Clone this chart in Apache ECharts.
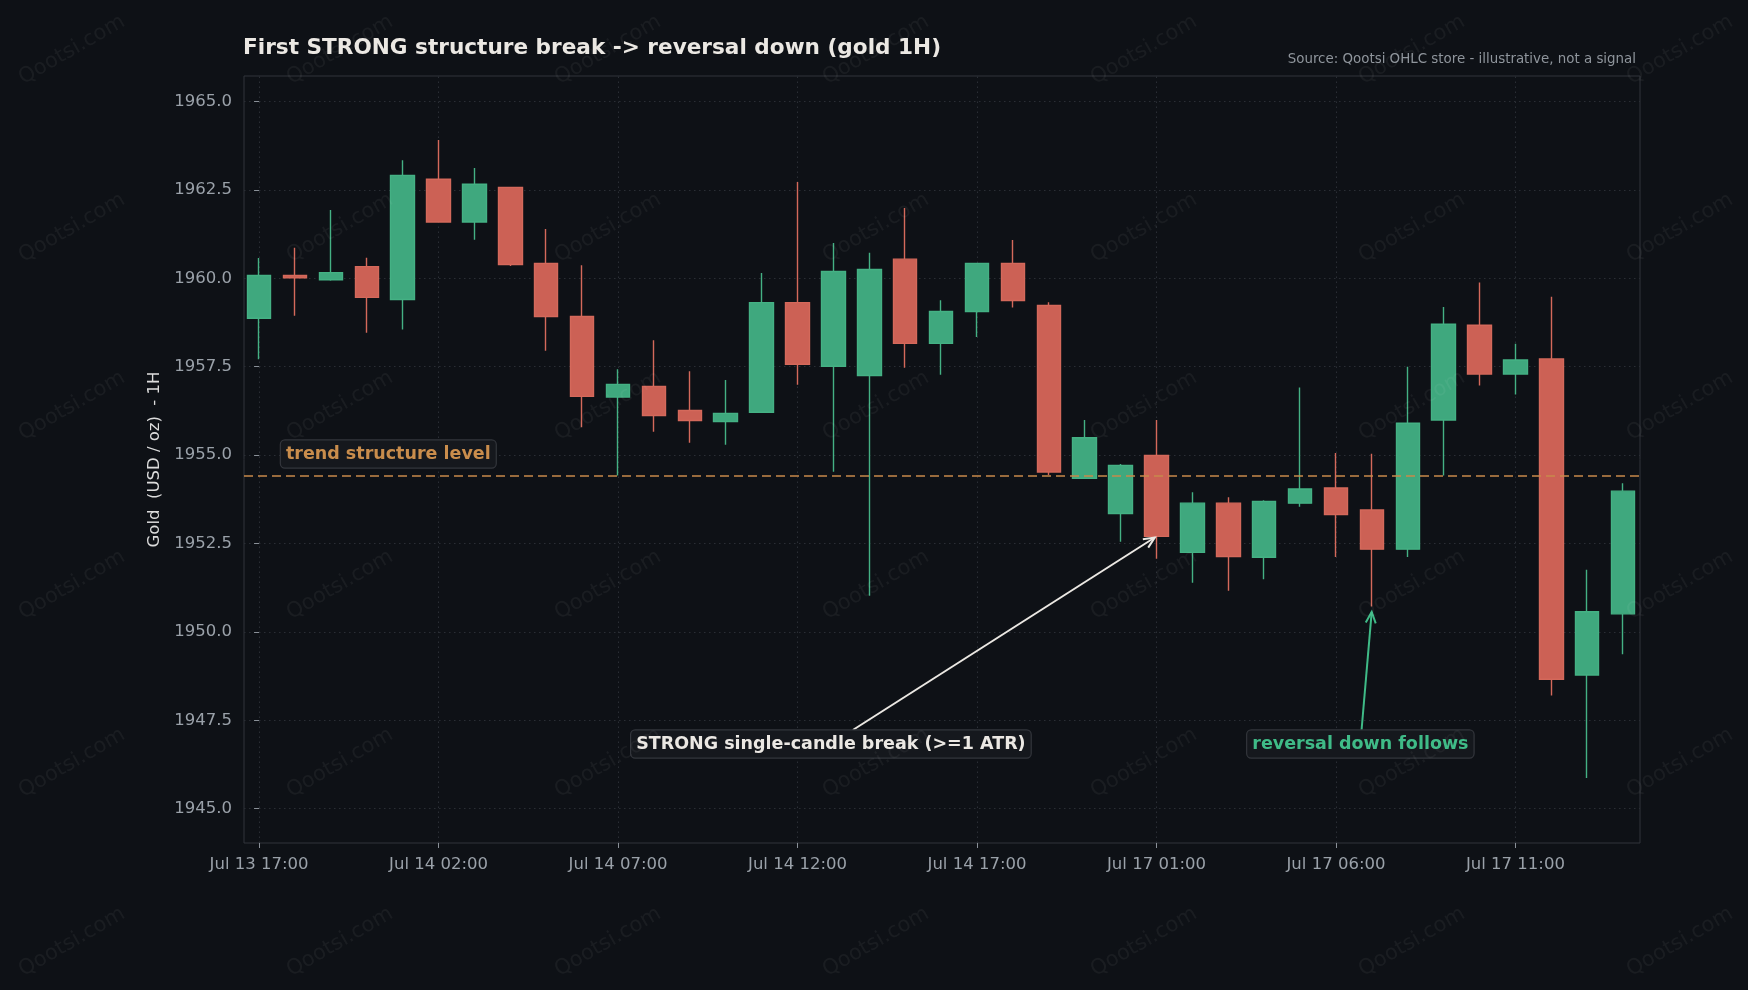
<!DOCTYPE html>
<html>
<head>
<meta charset="utf-8">
<script src="https://cdn.jsdelivr.net/npm/echarts@6/dist/echarts.min.js"></script>
<style>
html,body{margin:0;padding:0;background:#0e1116;}
#chart{width:1748px;height:990px;}
</style>
</head>
<body>
<div id="chart"></div>
<script>
// ---------------- DATA ----------------
const categories = [
  'Jul 13 17:00','Jul 13 18:00','Jul 13 19:00','Jul 13 20:00','Jul 13 21:00',
  'Jul 14 02:00','Jul 14 03:00','Jul 14 04:00','Jul 14 05:00','Jul 14 06:00',
  'Jul 14 07:00','Jul 14 08:00','Jul 14 09:00','Jul 14 10:00','Jul 14 11:00',
  'Jul 14 12:00','Jul 14 13:00','Jul 14 14:00','Jul 14 15:00','Jul 14 16:00',
  'Jul 14 17:00','Jul 14 18:00','Jul 14 19:00','Jul 14 20:00','Jul 14 21:00',
  'Jul 17 01:00','Jul 17 02:00','Jul 17 03:00','Jul 17 04:00','Jul 17 05:00',
  'Jul 17 06:00','Jul 17 07:00','Jul 17 08:00','Jul 17 09:00','Jul 17 10:00',
  'Jul 17 11:00','Jul 17 12:00','Jul 17 13:00','Jul 17 14:00'
];
const opens  = [1958.87,1960.08,1959.96,1960.33,1959.40,1962.80,1961.59,1962.57,1960.42,1958.92,
                1956.64,1956.94,1956.26,1955.95,1956.21,1959.31,1957.51,1957.25,1960.54,1958.16,
                1959.06,1960.42,1959.23,1954.34,1953.35,1954.99,1952.25,1953.64,1952.11,1953.64,
                1954.07,1953.45,1952.34,1955.99,1958.67,1957.29,1957.72,1948.78,1950.51];
const closes = [1960.08,1960.01,1960.16,1959.46,1962.91,1961.59,1962.66,1960.39,1958.92,1956.66,
                1957.00,1956.12,1955.98,1956.18,1959.31,1957.57,1960.19,1960.25,1958.16,1959.06,
                1960.42,1959.37,1954.52,1955.49,1954.71,1952.70,1953.64,1952.13,1953.69,1954.04,
                1953.32,1952.34,1955.90,1958.70,1957.29,1957.69,1948.66,1950.57,1953.98];
const lows   = [1957.71,1958.94,1959.93,1958.46,1958.55,1961.59,1961.09,1960.35,1957.95,1955.79,
                1954.42,1955.66,1955.35,1955.29,1956.21,1956.99,1954.53,1951.02,1957.47,1957.27,
                1958.34,1959.17,1954.44,1954.34,1952.55,1952.07,1951.39,1951.16,1951.49,1953.54,
                1952.12,1950.72,1952.12,1954.42,1956.97,1956.71,1948.20,1945.87,1949.37];
const highs  = [1960.57,1960.86,1961.93,1960.58,1963.34,1963.91,1963.12,1962.57,1961.39,1960.37,
                1957.43,1958.25,1957.37,1957.12,1960.15,1962.72,1961.00,1960.72,1961.99,1959.38,
                1960.42,1961.08,1959.32,1955.99,1954.75,1955.99,1953.95,1953.81,1953.72,1956.91,
                1955.06,1955.04,1957.50,1959.19,1959.88,1958.15,1959.48,1951.76,1954.20];

const yTicks = [1945.0,1947.5,1950.0,1952.5,1955.0,1957.5,1960.0,1962.5,1965.0];
const xTickIdx = [0,5,10,15,20,25,30,35];
const yRange = [1944.03, 1965.72];
const xRange = [-0.42, 38.47];

const structureLevel = 1954.42;
const levelLabel = {text: 'trend structure level', at: [3.6, 1955.03]};
const breakNote = {text: 'STRONG single-candle break (>=1 ATR)', at: [15.93, 1946.83], target: [25, 1952.70]};
const reversalNote = {text: 'reversal down follows', at: [30.68, 1946.83], target: [31, 1950.62]};

const titleText = 'First STRONG structure break -> reversal down (gold 1H)';
const sourceText = 'Source: Qootsi OHLC store - illustrative, not a signal';
const yAxisName = 'Gold  (USD / oz)  - 1H';
const watermark = 'Qootsi.com';

// ---------------- STYLE ----------------
const UP = '#3fa87e', UP_B = '#44b184';
const DOWN = '#cc6155', DOWN_B = '#d4695b';
const GRIDC = '#2a2e35';
const FONT = '"DejaVu Sans", sans-serif';

const ohlc = categories.map((c, i) => [i, opens[i], closes[i], lows[i], highs[i]]);

const chart = echarts.init(document.getElementById('chart'), null, {renderer: 'canvas'});

const option = {
  animation: false,
  backgroundColor: '#0e1116',
  title: {
    text: titleText, left: 243, top: 37, padding: 0,
    textStyle: {color: '#ebe8e3', fontSize: 21.6, fontWeight: 'bold', fontFamily: FONT}
  },
  grid: {
    left: 244, top: 76, width: 1396, height: 767,
    show: true, borderColor: '#30343a', borderWidth: 1, backgroundColor: 'transparent'
  },
  xAxis: {
    type: 'value', min: xRange[0], max: xRange[1],
    axisLine: {show: false},
    axisTick: {show: true, customValues: xTickIdx, length: 5, lineStyle: {color: '#8a9098'}},
    axisLabel: {customValues: xTickIdx, color: '#9aa1a9', fontSize: 16.5, margin: 13, fontFamily: FONT,
                formatter: v => categories[Math.round(v)] || ''},
    splitLine: {show: false}
  },
  yAxis: {
    type: 'value', min: yRange[0], max: yRange[1],
    name: yAxisName, nameLocation: 'middle', nameGap: 77, nameRotate: 90,
    nameTextStyle: {color: '#dcdcdc', fontSize: 16.5, fontFamily: FONT},
    axisLine: {show: false},
    axisTick: {show: true, customValues: yTicks, length: 5, lineStyle: {color: '#8a9098'}},
    axisLabel: {customValues: yTicks, color: '#9aa1a9', fontSize: 16.5, margin: 12, fontFamily: FONT,
                formatter: v => Number(v).toFixed(1)},
    splitLine: {show: false}
  },
  series: [
    {
      type: 'line', data: [], z: 1, silent: true,
      markLine: {
        z: 0, silent: true, symbol: ['none', 'none'], animation: false,
        label: {show: false},
        lineStyle: {type: [1.5, 3.5], color: GRIDC, width: 1},
        data: yTicks.map(v => ({yAxis: v})).concat(xTickIdx.map(i => ({xAxis: i})))
      }
    },
    {
      type: 'candlestick', data: ohlc, z: 3, barWidth: 24,
      encode: {x: 0, y: [1, 2, 3, 4]},
      itemStyle: {color: UP, color0: DOWN, borderColor: UP_B, borderColor0: DOWN_B, borderWidth: 1.4},
      markLine: {
        z: 5, silent: true, symbol: ['none', 'none'], animation: false,
        label: {show: false},
        lineStyle: {type: [9, 5], color: '#c8894b', width: 1.6},
        data: [{yAxis: structureLevel}]
      }
    }
  ]
};
chart.setOption(option);

// ---------- annotations via the chart's scales ----------
function px(i, v) {
  return chart.convertToPixel({xAxisIndex: 0, yAxisIndex: 0}, [i, v]);
}

const graphics = [];
const BOX_FONT = 'bold 17.5px ' + FONT;
function box(note, color) {
  const c = px(note.at[0], note.at[1]);
  graphics.push({
    type: 'text', x: c[0], y: c[1], z: 50,
    style: {
      text: note.text, fill: color, font: BOX_FONT,
      align: 'center', verticalAlign: 'middle',
      backgroundColor: '#15181d', borderColor: '#33363c', borderWidth: 1.2, borderRadius: 4,
      padding: [5, 5, 4, 5]
    }
  });
}
function arrow(note, color) {
  const c = px(note.at[0], note.at[1]);
  const t = px(note.target[0], note.target[1]);
  const dx = t[0] - c[0], dy = t[1] - c[1];
  const half = 14;
  const s = half / Math.abs(dy);
  const start = [c[0] + dx * s, c[1] + dy * s];
  const len = Math.hypot(dx, dy);
  const ux = dx / len, uy = dy / len;
  const tip = [t[0] - ux * 2, t[1] - uy * 2];
  const hl = 11, hw = 5;
  const base = [tip[0] - ux * hl, tip[1] - uy * hl];
  const p1 = [base[0] - uy * hw, base[1] + ux * hw];
  const p2 = [base[0] + uy * hw, base[1] - ux * hw];
  graphics.push({type: 'line', z: 40, shape: {x1: start[0], y1: start[1], x2: tip[0], y2: tip[1]},
                 style: {stroke: color, lineWidth: 2}});
  graphics.push({type: 'polyline', z: 40, shape: {points: [p1, tip, p2]},
                 style: {stroke: color, lineWidth: 2, fill: null}});
}

arrow(breakNote, '#ebe8e3');
arrow(reversalNote, '#3fbb87');
box(levelLabel, '#c98d4c');
box(breakNote, '#ebe8e3');
box(reversalNote, '#3fbb87');

graphics.push({
  type: 'text', x: 1636, y: 60, z: 50,
  style: {text: sourceText, fill: '#8f959c', font: '13.4px ' + FONT, align: 'right', verticalAlign: 'middle'}
});

// watermarks
const wmCols = [72, 340, 608, 876, 1144, 1412, 1680];
const wmRows = [50, 228, 406, 585, 763, 942];
wmCols.forEach(x => wmRows.forEach(y => {
  graphics.push({
    type: 'text', x: x, y: y, rotation: 30 * Math.PI / 180, z: 100, silent: true,
    style: {text: watermark, fill: 'rgba(255,255,255,0.05)', font: '21px ' + FONT,
            align: 'center', verticalAlign: 'middle'}
  });
}));

chart.setOption({graphic: graphics});
</script>
</body>
</html>
